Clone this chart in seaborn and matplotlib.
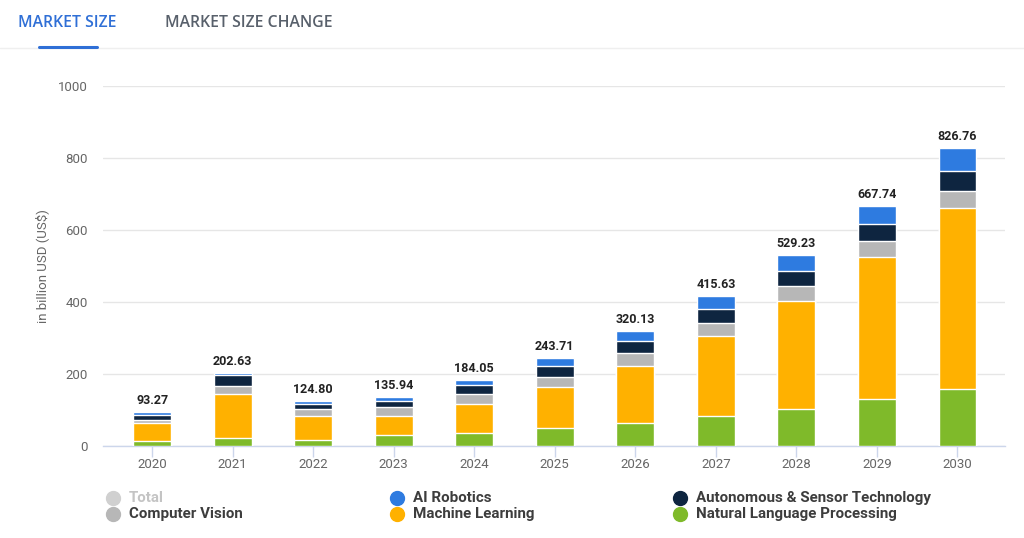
import matplotlib.pyplot as plt
import pandas as pd
import seaborn as sns
from matplotlib.lines import Line2D

# Data (billion USD)
years = ['2020', '2021', '2022', '2023', '2024', '2025', '2026', '2027', '2028', '2029', '2030']
nlp = [14, 21, 17, 30, 37, 51, 63, 83, 104, 130, 159]
machine_learning = [50, 123, 67, 54, 80, 112, 160, 223, 300, 396, 503]
computer_vision = [9, 23, 18, 23, 27, 29, 34, 37, 40, 43, 46]
autonomous = [14, 30, 15, 18, 25, 30, 35, 38, 41, 47, 57]
ai_robotics = [6.27, 5.63, 7.8, 10.94, 15.05, 21.71, 28.13, 34.63, 44.23, 51.74, 61.76]
totals = ['93.27', '202.63', '124.80', '135.94', '184.05', '243.71', '320.13',
          '415.63', '529.23', '667.74', '826.76']

segments = [
    ('Natural Language Processing', nlp, '#7fba2a'),
    ('Machine Learning', machine_learning, '#ffb100'),
    ('Computer Vision', computer_vision, '#b7b7b7'),
    ('Autonomous & Sensor Technology', autonomous, '#0e2540'),
    ('AI Robotics', ai_robotics, '#2e7be0'),
]

df = pd.DataFrame({'year': years})
running = [0] * len(years)
for name, vals, col in segments:
    running = [r + v for r, v in zip(running, vals)]
    df[name] = running

sns.set_theme(style='white')
plt.rcParams['font.family'] = ['Roboto', 'DejaVu Sans']

fig = plt.figure(figsize=(10.24, 5.38), dpi=100)
ax = fig.add_axes([103 / 1024, 1 - 446 / 538, 902 / 1024, 360 / 538])

# stacked bars: draw cumulative heights from the top layer down
for name, vals, col in reversed(segments):
    sns.barplot(data=df, x='year', y=name, color=col, saturation=1, width=0.47,
                edgecolor='white', linewidth=1, ax=ax, zorder=3)

for i, lab in enumerate(totals):
    ax.text(i, df[segments[-1][0]][i] + 14, lab, ha='center', va='bottom',
            fontsize=9, fontweight='bold', color='#222222', zorder=4)

ax.set_ylim(0, 1000)
ax.set_xlim(-0.61, 10.59)
ax.set_yticks([0, 200, 400, 600, 800, 1000])
ax.yaxis.grid(True, color='#e6e6e6', linewidth=1, zorder=0)
for s in ['top', 'right', 'left']:
    ax.spines[s].set_visible(False)
ax.spines['bottom'].set_color('#ccd6eb')
ax.spines['bottom'].set_linewidth(1)
ax.tick_params(axis='x', colors='#ccd6eb', length=8, width=1, labelcolor='#666666',
               labelsize=9.5, pad=1, bottom=True)
ax.tick_params(axis='y', length=0, labelcolor='#666666', labelsize=9.5, pad=11)
ax.set_xlabel('')
ax.set_ylabel('in billion USD (US$)', color='#666666', fontsize=9.5, labelpad=6)

# tabs at the top
fig.text(18 / 1024, 1 - 23 / 538, 'MARKET SIZE', color='#2f6fd6', fontsize=11.3,
         fontweight='semibold', family=['Open Sans', 'DejaVu Sans'], va='center')
fig.text(165 / 1024, 1 - 23 / 538, 'MARKET SIZE CHANGE', color='#58606b', fontsize=11.3,
         fontweight='semibold', family=['Open Sans', 'DejaVu Sans'], va='center')
fig.add_artist(Line2D([0, 1], [1 - 48 / 538] * 2, color='#efefef', lw=1,
                      transform=fig.transFigure))
fig.add_artist(Line2D([39 / 1024, 97 / 1024], [1 - 47 / 538] * 2, color='#2f6fd6', lw=2.2,
                      transform=fig.transFigure))

# legend
legend_items = [
    ('Total', '#d0d0d0', '#c4c4c4', 113, 498),
    ('Computer Vision', '#b7b7b7', '#3d3d3d', 113, 514),
    ('AI Robotics', '#2e7be0', '#3d3d3d', 397, 498),
    ('Machine Learning', '#ffb100', '#3d3d3d', 397, 514),
    ('Autonomous & Sensor Technology', '#0e2540', '#3d3d3d', 680, 498),
    ('Natural Language Processing', '#7fba2a', '#3d3d3d', 680, 514),
]
for label, mcol, tcol, px, py in legend_items:
    fig.add_artist(Line2D([px / 1024], [1 - py / 538], marker='o', markersize=10,
                          color=mcol, linestyle='none', transform=fig.transFigure))
    fig.text((px + 16) / 1024, 1 - py / 538, label, color=tcol, fontsize=10.9,
             fontweight='bold', va='center')

fig.savefig('out.png', dpi=100)
